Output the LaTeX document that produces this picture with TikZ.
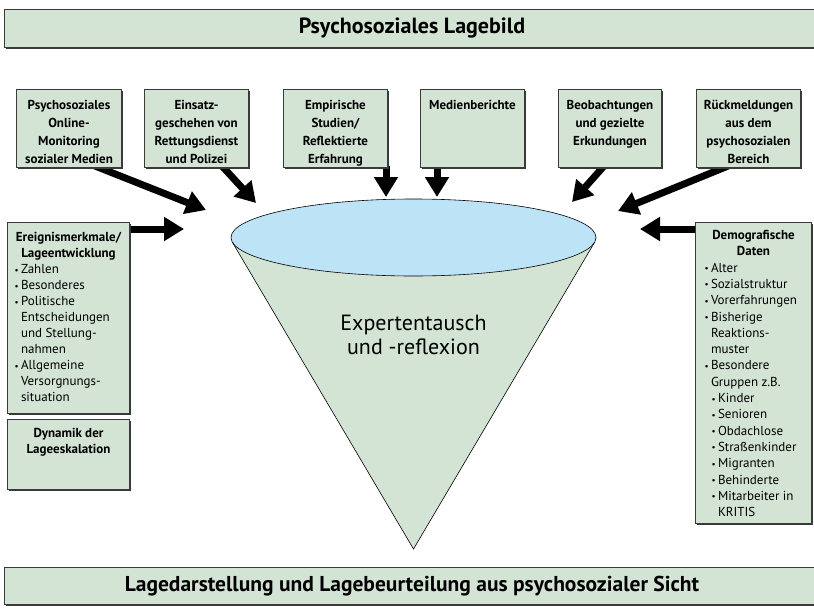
\documentclass[tikz,border=0pt]{standalone}
\usepackage{fontspec}
\setmainfont{PT Sans}
\usetikzlibrary{arrows.meta,shapes.geometric,calc}
\definecolor{boxgreen}{HTML}{D3E4D5}
\definecolor{lensblue}{HTML}{BDE3F7}
\definecolor{edgegray}{HTML}{3A3A3A}
\newcommand\itm[1]{\par\noindent\hspace*{#1}\hangindent=\dimexpr#1+6.5pt\relax\hangafter=1\makebox[6.5pt][l]{\raisebox{0.5pt}{\fontsize{9}{9}\selectfont•}}}
\tikzset{
  panel/.style={draw=edgegray, line width=1pt, fill=boxgreen, inner sep=0pt, anchor=north west,
    preaction={fill=edgegray, transform canvas={shift={(1pt,-1pt)}}}},
  bigarrow/.style={line width=7pt, black, -{Triangle[length=20pt,width=23pt]}},
  cone/.style={draw=black, line width=0.6pt, fill=boxgreen},
}
\begin{document}
\begin{tikzpicture}[x=1pt,y=-1pt]
\path[clip] (0,0) rectangle (814,608);
% connector end points
\coordinate (t1) at (206,210);
\coordinate (t2) at (256,203);
\coordinate (t3) at (386,197);
\coordinate (t4) at (437,197);
\coordinate (t5) at (572,202);
\coordinate (t6) at (618,211);
\coordinate (t7) at (184,229);
\coordinate (t8) at (640,229);
% cone
\coordinate (tip) at (413.5,549);
\coordinate (tl) at (232.4,242.3);
\coordinate (tr) at (594.6,242.3);
\filldraw[cone] (tl) -- (tip) -- (tr) -- cycle;
\node[ellipse, draw=black, line width=0.6pt, fill=lensblue, minimum width=365pt, minimum height=77pt, inner sep=0pt] (lens) at (413.5,237.5) {};
\node[font=\fontsize{22}{24}\selectfont, align=center] (expert) at (413.5,335) {Expertentausch\\und -reflexion};
% banners
\node[panel] (head) at (4,9) {\parbox[c][38pt][c]{815pt}{\centering\fontsize{22}{24}\selectfont\bfseries Psychosoziales Lagebild}};
\node[panel] (foot) at (4,567) {\parbox[c][37pt][c]{815pt}{\centering\fontsize{21.5}{24}\selectfont\bfseries Lagedarstellung und Lagebeurteilung aus psychosozialer Sicht}};
% arrows (drawn beneath the boxes)
\coordinate (s1) at (95,166);
\coordinate (s2) at (222,166);
\coordinate (s3) at (386,166);
\coordinate (s4) at (437,166);
\coordinate (s5) at (604,166);
\coordinate (s6) at (728,166);
\coordinate (s7) at (128,229);
\coordinate (s8) at (696,229);
\draw[bigarrow] (s1) -- (t1);
\draw[bigarrow] (s2) -- (t2);
\draw[bigarrow] (s3) -- (t3);
\draw[bigarrow] (s4) -- (t4);
\draw[bigarrow] (s5) -- (t5);
\draw[bigarrow] (s6) -- (t6);
\draw[bigarrow] (s7) -- (t7);
\draw[bigarrow] (s8) -- (t8);
% top boxes
\node[panel] (b1) at (16,89) {\parbox[c][78pt][t]{105pt}{\centering\fontsize{13}{18}\selectfont\bfseries\rule{0pt}{20pt}Psychosoziales\\Online-\\Monitoring\\sozialer Medien}};
\node[panel] (b2) at (144,89) {\parbox[c][78pt][t]{104pt}{\centering\fontsize{13}{18}\selectfont\bfseries\rule{0pt}{20pt}Einsatz-\\geschehen von\\Rettungsdienst\\und Polizei}};
\node[panel] (b3) at (283,89) {\parbox[c][78pt][t]{104pt}{\centering\fontsize{13}{18}\selectfont\bfseries\rule{0pt}{20pt}Empirische\\Studien/\\Reflektierte\\Erfahrung}};
\node[panel] (b4) at (420,89) {\parbox[c][78pt][t]{104pt}{\centering\fontsize{13}{18}\selectfont\bfseries\rule{0pt}{20pt}Medienberichte}};
\node[panel] (b5) at (558,89) {\parbox[c][78pt][t]{103pt}{\centering\fontsize{13}{18}\selectfont\bfseries\rule{0pt}{20pt}Beobachtungen\\und gezielte\\Erkundungen}};
\node[panel] (b6) at (696,89) {\parbox[c][78pt][t]{104pt}{\centering\fontsize{13}{18}\selectfont\bfseries\rule{0pt}{20pt}Rückmeldungen\\aus dem\\psychosozialen\\Bereich}};
% left boxes
\node[panel] (ev) at (7,222) {\parbox[c][191pt][t]{122pt}{\fontsize{13}{16}\selectfont
  {\centering\bfseries\rule{0pt}{19pt}Ereignismerkmale/\\Lageentwicklung\par}
  \raggedright
  \itm{7pt}Zahlen
  \itm{7pt}Besonderes
  \itm{7pt}Politische\newline Entscheidungen\newline und Stellung-\newline nahmen
  \itm{7pt}Allgemeine\newline Versorgnungs-\newline situation\par}};
\node[panel] (dyn) at (7,419) {\parbox[c][70pt][t]{122pt}{\centering\fontsize{13}{15.5}\selectfont\bfseries\rule{0pt}{18pt}Dynamik der\\Lageeskalation}};
% right box
\node[panel] (demo) at (695,222) {\parbox[c][301pt][t]{116pt}{\fontsize{13}{16.3}\selectfont
  {\centering\bfseries\rule{0pt}{17pt}Demografische\\Daten\par}
  \raggedright
  \itm{9pt}Alter
  \itm{9pt}Sozialstruktur
  \itm{9pt}Vorerfahrungen
  \itm{9pt}Bisherige\newline Reaktions-\newline muster
  \itm{9pt}Besondere\newline Gruppen z.B.
  \itm{16pt}Kinder
  \itm{16pt}Senioren
  \itm{16pt}Obdachlose
  \itm{16pt}Straßenkinder
  \itm{16pt}Migranten
  \itm{16pt}Behinderte
  \itm{16pt}Mitarbeiter in\newline KRITIS\par}};
\end{tikzpicture}
\end{document}
